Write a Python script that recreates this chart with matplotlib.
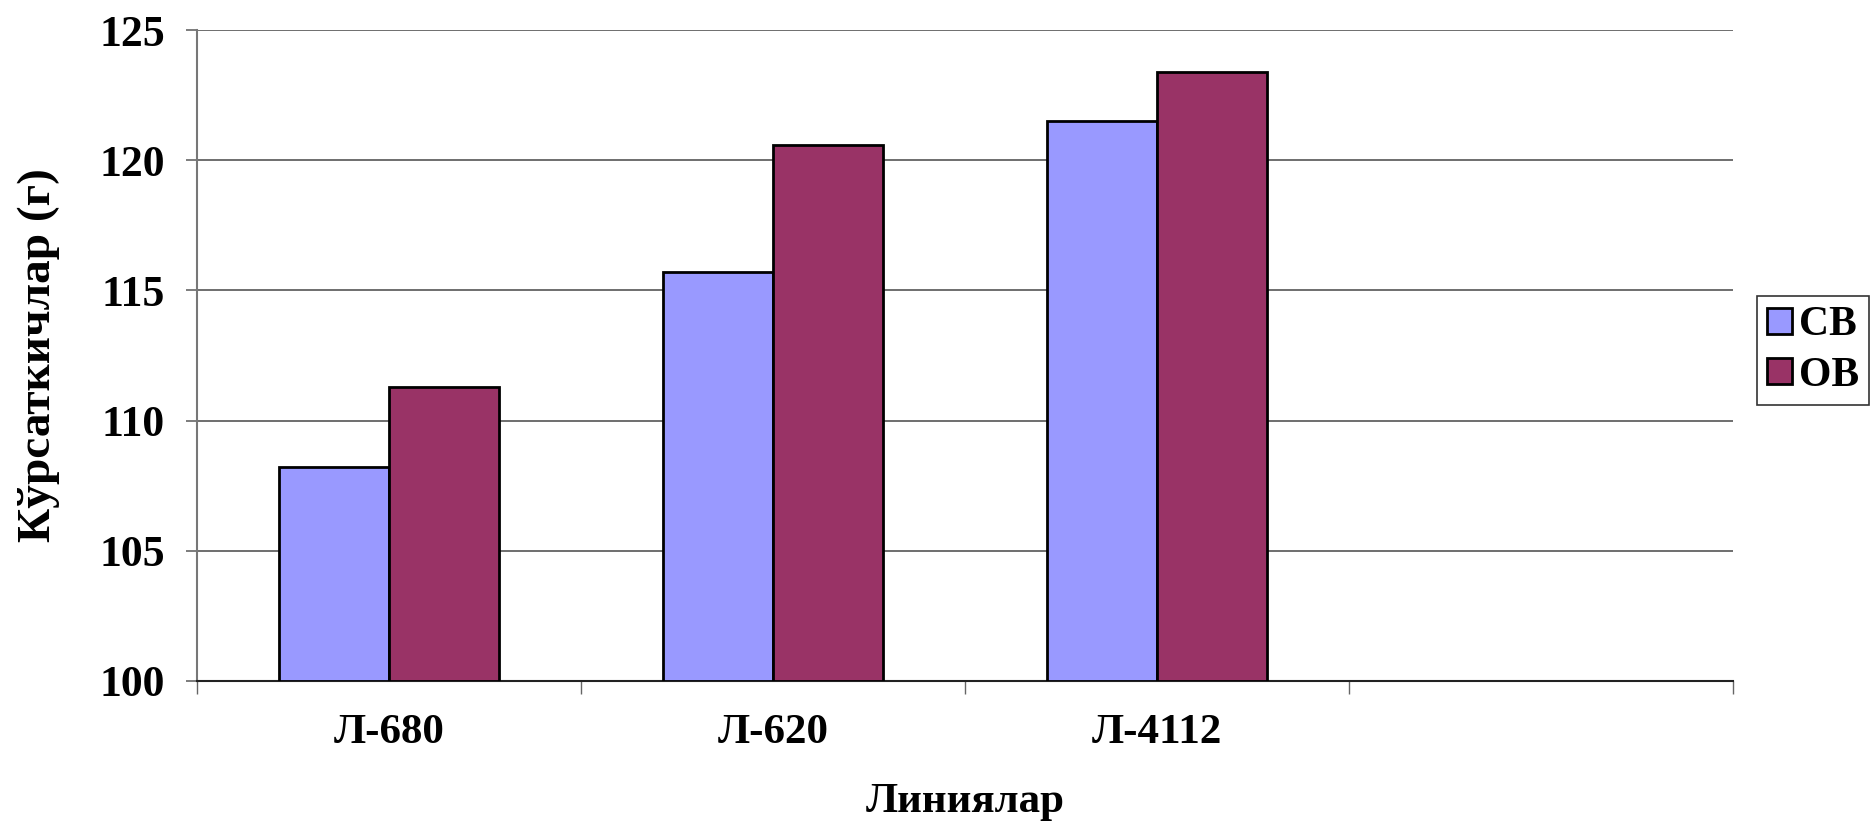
import matplotlib
matplotlib.use("Agg")
import matplotlib.pyplot as plt
import numpy as np

# Data
categories = ["Л-680", "Л-620", "Л-4112", ""]
series_names = ["СВ", "ОВ"]
cv_values = [108.2, 115.7, 121.5]
ov_values = [111.3, 120.6, 123.4]
colors = ["#9999FF", "#993366"]
yticks = [100, 105, 110, 115, 120, 125]

plt.rcParams['font.family'] = ['Liberation Serif', 'DejaVu Serif']
plt.rcParams['font.weight'] = 'bold'

W, H = 1872, 824
fig = plt.figure(figsize=(W / 100, H / 100), dpi=100)
ax = fig.add_axes([197 / W, 1 - 681 / H, (1733 - 197) / W, (681 - 30) / H])

x = np.arange(len(categories))
bw = 0.286
n = len(cv_values)
ax.bar(x[:n] - bw / 2, np.array(cv_values) - 100, bw, bottom=100,
       color=colors[0], edgecolor="black", linewidth=2, label=series_names[0], zorder=3)
ax.bar(x[:n] + bw / 2, np.array(ov_values) - 100, bw, bottom=100,
       color=colors[1], edgecolor="black", linewidth=2, label=series_names[1], zorder=3)

ax.set_xlim(-0.5, len(categories) - 0.5)
ax.set_ylim(100, 125)
ax.set_yticks(yticks)
ax.set_yticklabels([str(v) for v in yticks], fontsize=31.5, fontweight='bold')
ax.yaxis.grid(True, color="#555555", linewidth=1.2, zorder=0)
ax.set_axisbelow(True)

ax.set_xticks(x)
ax.set_xticklabels(categories, fontsize=31, fontweight='bold')
ax.set_xticks(np.arange(-0.5, len(categories), 1.0), minor=True)
ax.tick_params(axis='x', which='major', length=0, pad=24)
ax.tick_params(axis='x', which='minor', length=9, width=1, color="#666666")
ax.tick_params(axis='y', length=8, width=1.2, color="#666666", pad=15)

for s in ["top", "right"]:
    ax.spines[s].set_visible(False)
ax.spines["left"].set_color("#777777")
ax.spines["left"].set_linewidth(1.5)
ax.spines["bottom"].set_color("#222222")
ax.spines["bottom"].set_linewidth(1.5)

ax.set_xlabel("Линиялар", fontsize=31, fontweight='bold', labelpad=22)
ax.set_ylabel("Кўрсаткичлар (г)", fontsize=34, fontweight='bold', labelpad=28)

leg = fig.legend(loc="upper left", bbox_to_anchor=(1757 / W, 1 - 296 / H),
                 fontsize=30, frameon=True, fancybox=False, edgecolor="black",
                 handlelength=0.6, handleheight=0.6, handletextpad=0.15,
                 borderpad=0.25, labelspacing=0.3, borderaxespad=0)
leg.get_frame().set_linewidth(1.2)
for t in leg.get_texts():
    t.set_fontweight('bold')

fig.savefig("out.png", dpi=100, facecolor="white")
